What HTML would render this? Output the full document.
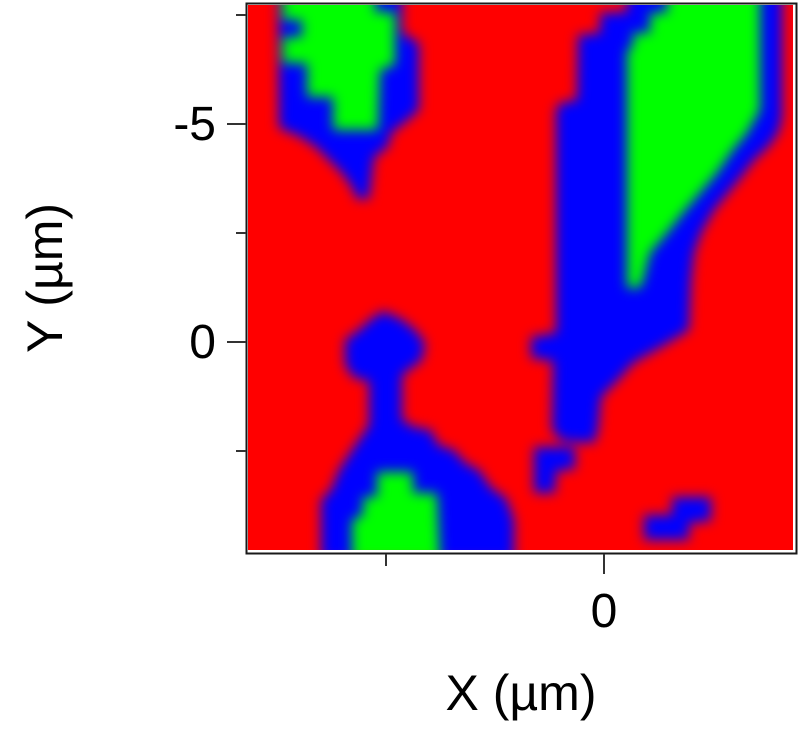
<!DOCTYPE html>
<html><head><meta charset="utf-8"><style>
html,body{margin:0;padding:0;background:#fff;}
svg{display:block;}
text{font-family:"Liberation Sans",Arial,sans-serif;fill:#000;}
</style></head><body>
<svg width="799" height="735" viewBox="0 0 799 735" xmlns="http://www.w3.org/2000/svg">
<defs>
<filter id="bl" x="-10%" y="-10%" width="120%" height="120%" color-interpolation-filters="sRGB">
<feGaussianBlur stdDeviation="6"/>
</filter>
<clipPath id="cp"><rect x="248" y="5" width="545" height="545"/></clipPath>
</defs>
<rect width="799" height="735" fill="#fff"/>
<g clip-path="url(#cp)">
<g filter="url(#bl)">
<rect x="200" y="-50" width="650" height="650" fill="#f00"/>
<polygon fill="#00f" points="278,-10 402,-10 402,33 419,43 419,110 404,123 391,133 388,147 374,157 369,199 357,199 352,187 342,173 329,160 316,147 299,136 279,128"/>
<polygon fill="#0f0" points="283,-10 375,-10 375,12 395,12 395,65 380,70 378,130 333,130 333,97 307,97 307,63 283,63"/>
<rect x="280" y="20" width="22" height="17" fill="#00f"/>
<polygon fill="#00f" points="627,-10 627,12 600,13 600,33 578,35 577,100 560,103 556,110 556,333 531,337 531,358 553,361 552,430 562,441 594,443 598,430 601,397 618,380 633,363 661,347 689,330 691,280 694,253 701,233 714,210 728,193 741,177 754,160 768,147 778,133 782,118 782,-10"/>
<polygon fill="#0f0" points="667,-10 667,13 650,13 650,33 633,33 633,47 627,50 627,288 640,288 643,280 650,253 667,233 683,213 700,193 717,173 733,150 747,133 760,110 760,-10"/>
<polygon fill="#00f" points="534,447 575,447 575,469 556,471 555,493 534,493"/>
<polygon fill="#00f" points="672,497 711,497 711,521 689,523 689,540 644,540 644,515 672,515"/>
<polygon fill="#00f" points="383,311 401,319 415,330 425,343 422,360 402,375 402,420 414,427 431,430 438,445 454,450 465,463 479,470 491,488 506,498 514,520 514,560 321,560 321,500 331,490 339,470 352,450 362,435 369,425 369,381 354,378 345,365 345,340 359,330 371,319"/>
<polygon fill="#0f0" points="377,472 413,472 413,493 437,493 440,560 352,560 352,520 363,515 363,497 377,497"/>
</g>
</g>
<rect x="246.5" y="3.5" width="550" height="550" fill="none" stroke="#1a1a1a" stroke-width="2"/>
<g stroke="#333" stroke-width="2">
<line x1="236" y1="15" x2="246" y2="15"/>
<line x1="227" y1="124" x2="246" y2="124"/>
<line x1="236" y1="233" x2="246" y2="233"/>
<line x1="227" y1="342" x2="246" y2="342"/>
<line x1="236" y1="451" x2="246" y2="451"/>
<line x1="386" y1="554" x2="386" y2="566"/>
<line x1="604" y1="554" x2="604" y2="574"/>
</g>
<text x="216" y="140" font-size="48" text-anchor="end">-5</text>
<text x="216" y="358" font-size="48" text-anchor="end">0</text>
<text x="604" y="627" font-size="48" text-anchor="middle">0</text>
<text x="521" y="710" font-size="50" text-anchor="middle">X (µm)</text>
<text x="62" y="278" font-size="50" text-anchor="middle" transform="rotate(-90 62 278)">Y (µm)</text>
</svg>
</body></html>
